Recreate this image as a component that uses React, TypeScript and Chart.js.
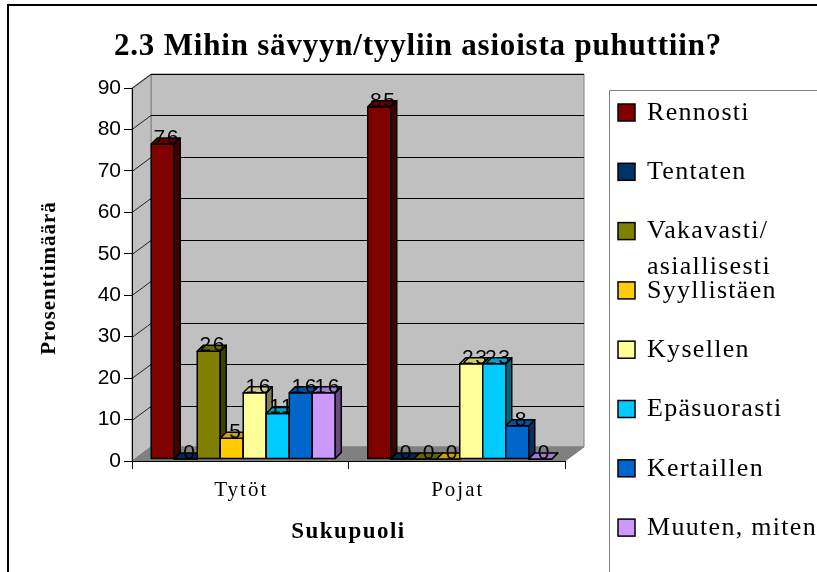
import React, { useEffect, useRef } from "react";
import { Chart, registerables } from "chart.js";

Chart.register(...registerables);

// ---------- data ----------
const TITLE = "2.3 Mihin sävyyn/tyyliin asioista puhuttiin?";
const Y_TITLE = "Prosenttimäärä";
const X_TITLE = "Sukupuoli";
const CATEGORIES = ["Tytöt", "Pojat"];
const SERIES_NAMES = [
  "Rennosti",
  "Tentaten",
  "Vakavasti/\nasiallisesti",
  "Syyllistäen",
  "Kysellen",
  "Epäsuorasti",
  "Kertaillen",
  "Muuten, miten",
];
const RENNOSTI = [76, 85];
const TENTATEN = [0, 0];
const VAKAVASTI = [26, 0];
const SYYLLISTAEN = [5, 0];
const KYSELLEN = [16, 23];
const EPASUORASTI = [11, 23];
const KERTAILLEN = [16, 8];
const MUUTEN = [16, 0];
const SERIES_VALUES = [RENNOSTI, TENTATEN, VAKAVASTI, SYYLLISTAEN, KYSELLEN, EPASUORASTI, KERTAILLEN, MUUTEN];
const SERIES_COLORS = ["#800000", "#003366", "#808000", "#FFCC00", "#FFFF99", "#00CCFF", "#0066CC", "#CC99FF"];
const Y_MIN = 0;
const Y_MAX = 90;
const Y_STEP = 10;

// ---------- styling constants ----------
const SERIF = "'Liberation Serif', 'Times New Roman', serif";
const SANS = "'Liberation Sans', Arial, sans-serif";
const WALL_DX = 19;
const WALL_DY = 14;
const BAR_DX = 6;
const BAR_DY = 6;
const BAR_SHIFT_X = 3;
const BAR_SHIFT_Y = 2;

function shade(hex: string, f: number): string {
  const n = parseInt(hex.slice(1), 16);
  const r = Math.round(((n >> 16) & 255) * f);
  const g = Math.round(((n >> 8) & 255) * f);
  const b = Math.round((n & 255) * f);
  return `rgb(${r},${g},${b})`;
}

function poly(ctx: CanvasRenderingContext2D, pts: number[][], fill: string, stroke?: string, lw = 1) {
  ctx.beginPath();
  ctx.moveTo(pts[0][0], pts[0][1]);
  for (let i = 1; i < pts.length; i++) ctx.lineTo(pts[i][0], pts[i][1]);
  ctx.closePath();
  ctx.fillStyle = fill;
  ctx.fill();
  if (stroke) {
    ctx.strokeStyle = stroke;
    ctx.lineWidth = lw;
    ctx.stroke();
  }
}

const scenePlugin = {
  id: "scene",
  beforeDraw(chart: any) {
    const ctx: CanvasRenderingContext2D = chart.ctx;
    const { left, right, top, bottom } = chart.chartArea;
    const yS = chart.scales.y;
    const xS = chart.scales.x;
    ctx.save();
    ctx.fillStyle = "#ffffff";
    ctx.fillRect(0, 0, chart.width, chart.height);

    // outer border
    ctx.strokeStyle = "#000";
    ctx.lineWidth = 2;
    ctx.strokeRect(8, 5, chart.width + 20, chart.height + 20);

    // walls
    const bx = left + WALL_DX;
    const by = bottom - WALL_DY;
    poly(ctx, [[bx, top - WALL_DY], [right + WALL_DX, top - WALL_DY], [right + WALL_DX, by], [bx, by]], "#c0c0c0", "#808080");
    poly(ctx, [[left, top], [bx, top - WALL_DY], [bx, by], [left, bottom]], "#c0c0c0", "#808080");
    poly(ctx, [[left, bottom], [bx, by], [right + WALL_DX, by], [right, bottom]], "#808080", "#808080");

    // gridlines on back wall + side wall
    ctx.lineWidth = 1;
    yS.ticks.forEach((t: any) => {
      const py = Math.round(yS.getPixelForValue(t.value)) + 0.5;
      if (t.value === Y_MIN) return;
      ctx.strokeStyle = "#000";
      ctx.beginPath();
      ctx.moveTo(bx, py - WALL_DY);
      ctx.lineTo(right + WALL_DX, py - WALL_DY);
      ctx.stroke();
      ctx.strokeStyle = "#222";
      ctx.beginPath();
      ctx.moveTo(left, py);
      ctx.lineTo(bx, py - WALL_DY);
      ctx.stroke();
    });

    // title
    ctx.fillStyle = "#000";
    (ctx as any).letterSpacing = "0.8px";
    ctx.font = `bold 31px ${SERIF}`;
    ctx.textAlign = "center";
    ctx.textBaseline = "middle";
    ctx.fillText(TITLE, 418, 47);

    // x category labels
    (ctx as any).letterSpacing = "2px";
    ctx.font = `21px ${SERIF}`;
    CATEGORIES.forEach((c, i) => {
      ctx.fillText(c, xS.getPixelForValue(i) + 1, 490);
    });

    // x title
    (ctx as any).letterSpacing = "1.5px";
    ctx.font = `bold 23px ${SERIF}`;
    ctx.fillText(X_TITLE, (left + right) / 2, 532);

    // y title
    (ctx as any).letterSpacing = "1px";
    ctx.font = `bold 21px ${SERIF}`;
    ctx.save();
    ctx.translate(50, 278);
    ctx.rotate(-Math.PI / 2);
    ctx.fillText(Y_TITLE, 0, 0);
    ctx.restore();

    // legend
    ctx.strokeStyle = "#808080";
    ctx.lineWidth = 1;
    ctx.strokeRect(609.5, 90.5, 400, 600);
    (ctx as any).letterSpacing = "1.3px";
    ctx.font = `26px ${SERIF}`;
    ctx.textAlign = "left";
    chart.data.datasets.forEach((ds: any, i: number) => {
      const cy = 112 + i * 59.3;
      ctx.fillStyle = ds.backgroundColor;
      ctx.fillRect(618, cy - 8, 17, 17);
      ctx.strokeStyle = "#000";
      ctx.lineWidth = 1.5;
      ctx.strokeRect(618, cy - 8, 17, 17);
      ctx.fillStyle = "#000";
      const lines = String(ds.label).split("\n");
      lines.forEach((ln, k) => ctx.fillText(ln, 647, cy + 1 + k * 36));
    });
    (ctx as any).letterSpacing = "0px";
    ctx.restore();
  },
  beforeDatasetDraw() {
    return false;
  },
  afterDatasetsDraw(chart: any) {
    const ctx: CanvasRenderingContext2D = chart.ctx;
    ctx.save();
    ctx.lineJoin = "round";
    chart.data.datasets.forEach((ds: any, di: number) => {
      const meta = chart.getDatasetMeta(di);
      const color = ds.backgroundColor as string;
      meta.data.forEach((el: any, i: number) => {
        const p = el.getProps(["x", "y", "base", "width"], true);
        const w = p.width;
        const x0 = p.x - w / 2 + BAR_SHIFT_X;
        const x1 = x0 + w;
        const yT = p.y - BAR_SHIFT_Y;
        const yB = p.base - BAR_SHIFT_Y;
        // front
        poly(ctx, [[x0, yT], [x1, yT], [x1, yB], [x0, yB]], color, "#000", 1.5);
        // side
        poly(ctx, [[x1, yT], [x1 + BAR_DX, yT - BAR_DY], [x1 + BAR_DX, yB - BAR_DY], [x1, yB]], shade(color, 0.5), "#000", 1.5);
        // top
        poly(ctx, [[x0, yT], [x0 + BAR_DX, yT - BAR_DY], [x1 + BAR_DX, yT - BAR_DY], [x1, yT]], shade(color, 0.8), "#000", 1.5);
        // label
        ctx.fillStyle = "#000";
        ctx.font = `21px ${SANS}`;
        (ctx as any).letterSpacing = "1.5px";
        ctx.textAlign = "center";
        ctx.textBaseline = "alphabetic";
        ctx.fillText(String(ds.data[i]), (x0 + x1) / 2 + BAR_DX / 2 + 1, yT);
        (ctx as any).letterSpacing = "0px";
      });
    });
    ctx.restore();
  },
};

export default function App() {
  const ref = useRef<HTMLCanvasElement | null>(null);
  useEffect(() => {
    if (!ref.current) return;
    const chart = new Chart(ref.current, {
      type: "bar",
      data: {
        labels: CATEGORIES,
        datasets: SERIES_NAMES.map((name, i) => ({
          label: name,
          data: SERIES_VALUES[i],
          backgroundColor: SERIES_COLORS[i],
          borderColor: "#000",
          borderWidth: 1,
          categoryPercentage: 0.85,
          barPercentage: 1,
        })),
      },
      options: {
        animation: false,
        responsive: false,
        layout: { padding: { left: 0, top: 88, right: 252, bottom: 0 } },
        plugins: {
          legend: { display: false },
          title: { display: false },
          tooltip: { enabled: false },
        },
        scales: {
          x: {
            offset: true,
            grid: { display: true, drawOnChartArea: false, drawTicks: true, tickLength: 8, color: "#000", offset: true },
            border: { display: true, color: "#000" },
            ticks: { display: false },
            afterFit: (s: any) => {
              s.height = 111;
            },
          },
          y: {
            min: Y_MIN,
            max: Y_MAX,
            ticks: { stepSize: Y_STEP, color: "#000", font: { family: SANS, size: 21 }, padding: 3 },
            grid: { drawOnChartArea: false, drawTicks: true, tickLength: 8, color: "#000" },
            border: { display: true, color: "#000" },
            afterFit: (s: any) => {
              s.width = 132;
            },
          },
        },
      },
      plugins: [scenePlugin],
    } as any);
    return () => chart.destroy();
  }, []);
  return (
    <div style={{ position: "fixed", left: 0, top: 0, width: 817, height: 572 }}>
      <canvas ref={ref} width={817} height={572} style={{ display: "block" }} />
    </div>
  );
}
